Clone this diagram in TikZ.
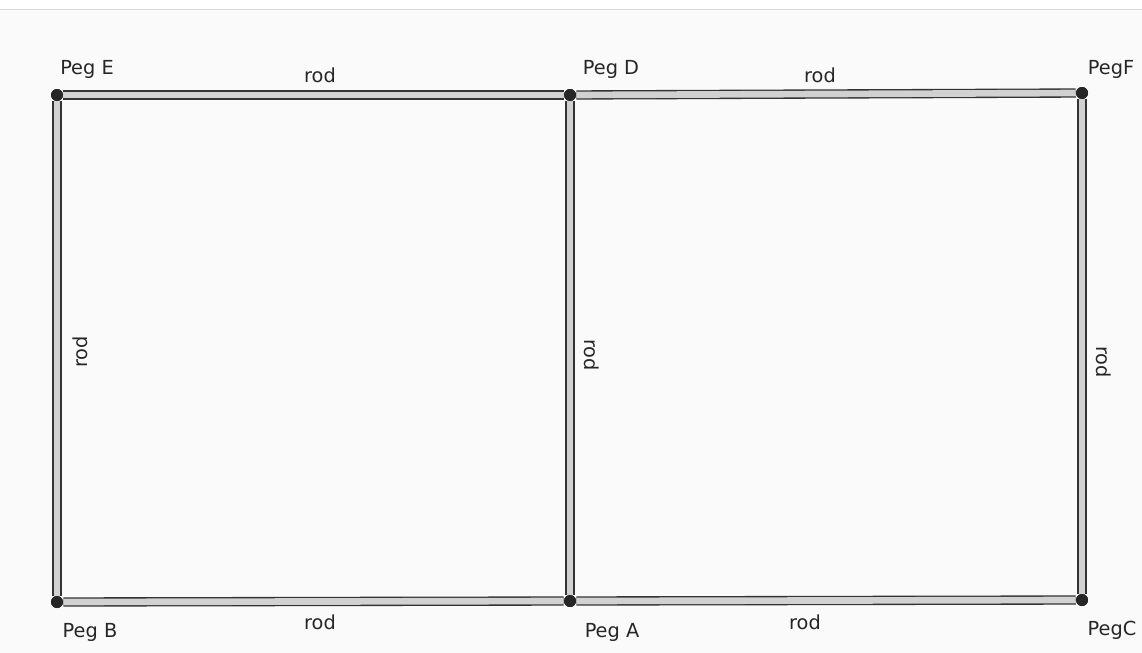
\documentclass[tikz,border=0pt]{standalone}
\usepackage{fontspec}
\setmainfont{DejaVu Sans}
\begin{document}
\begin{tikzpicture}[x=0.75pt,y=-0.75pt,
  rod/.style={draw=black!80, line width=1pt, double=black!18, double distance=5pt},
  peg/.style={circle, fill=black!85, inner sep=0pt, minimum size=9pt},
  lbl/.style={font=\fontsize{14.5}{16}\selectfont, text=black!85, inner sep=1pt},
  rodlbl/.style={font=\fontsize{14.5}{16}\selectfont, text=black!85, inner sep=1pt}]
\useasboundingbox (0,0) rectangle (1142,653);
\fill[black!2] (0,10) rectangle (1142,653);
\draw[black!15, line width=0.8pt] (0,9.5) -- (1142,9.5);
% pegs
\node[peg] (E) at (57,95) {};
\node[peg] (D) at (570,95) {};
\node[peg] (F) at (1082,93) {};
\node[peg] (B) at (57,602) {};
\node[peg] (A) at (570,601) {};
\node[peg] (C) at (1082,600) {};
% rods
\draw[rod] (E) -- (D);
\draw[rod] (D) -- (F);
\draw[rod] (B) -- (A);
\draw[rod] (A) -- (C);
\draw[rod] (E) -- (B);
\draw[rod] (D) -- (A);
\draw[rod] (F) -- (C);
% redraw pegs on top
\foreach \p in {E,D,F,B,A,C} \fill[black!85] (\p) circle (4.5pt);
% peg labels
\node[lbl] (lE) at (87,69) {Peg E};
\node[lbl] (lD) at (611,69) {Peg D};
\node[lbl] (lF) at (1111,69) {PegF};
\node[lbl] (lB) at (90,632) {Peg B};
\node[lbl] (lA) at (612,632) {Peg A};
\node[lbl] (lC) at (1112,630) {PegC};
% rod labels
\node[rodlbl] (r1) at (320,75) {rod};
\node[rodlbl] (r2) at (820,75) {rod};
\node[rodlbl] (r3) at (320,622) {rod};
\node[rodlbl] (r4) at (805,622) {rod};
\node[rodlbl, rotate=90] (r5) at (80,352) {rod};
\node[rodlbl, rotate=-90] (r6) at (592,355) {rod};
\node[rodlbl, rotate=-90] (r7) at (1104,362) {rod};
\end{tikzpicture}
\end{document}
